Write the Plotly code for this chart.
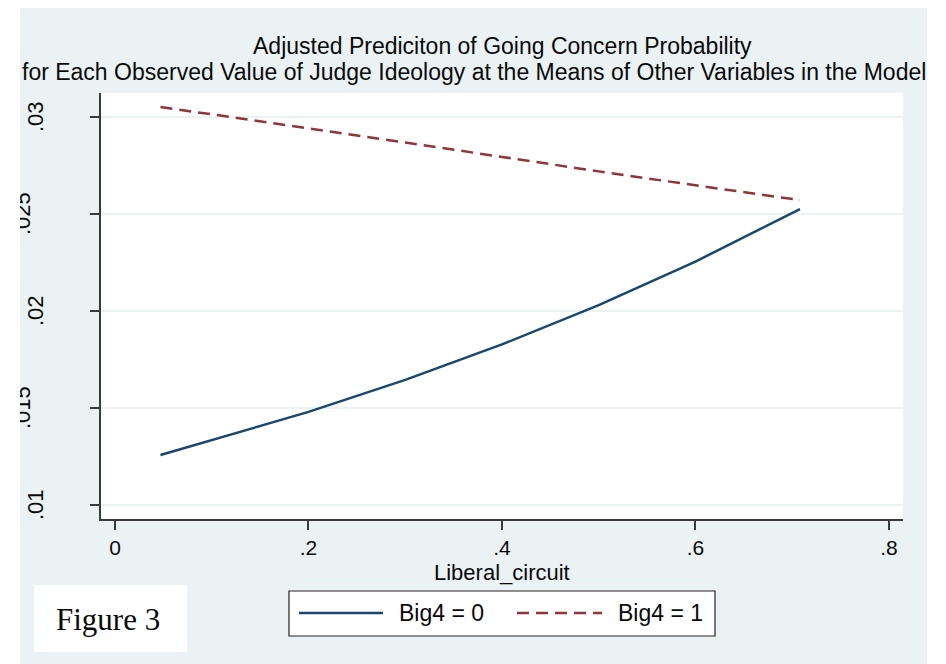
import plotly.graph_objects as go

# ---- data ----
liberal_circuit = [0.047, 0.1, 0.2, 0.3, 0.4, 0.5, 0.6, 0.708]
big4_0 = [0.01258, 0.01335, 0.01480, 0.01645, 0.01828, 0.02030, 0.02255, 0.02526]
big4_1 = [0.03052, 0.03015, 0.02942, 0.02869, 0.02793, 0.02720, 0.02648, 0.02572]
series_names = ["Big4 = 0", "Big4 = 1"]

x_tickvals = [0, 0.2, 0.4, 0.6, 0.8]
x_ticktext = ["0", ".2", ".4", ".6", ".8"]
y_tickvals = [0.01, 0.015, 0.02, 0.025, 0.03]
y_ticktext = [".01", ".015", ".02", ".025", ".03"]

title_1 = "Adjusted Prediciton of Going Concern Probability"
title_2 = "for Each Observed Value of Judge Ideology at the Means of Other Variables in the Model"
x_title = "Liberal_circuit"
fig_label = "Figure 3"

# ---- style ----
BG = "#eaf2f3"
NAVY = "#1a476f"
MAROON = "#90353b"
AXC = "#3a3a3a"
TXT = "#0a0a0a"
FONT = "Liberation Sans, Arial, sans-serif"

OFF = 8  # page body margin
W, H = 946 - OFF, 664 - OFF
L, R, T, B = 101 - OFF, 43, 93 - OFF, 145
PW, PH = W - L - R, H - T - B


def px_x(p):  # page pixel -> paper x
    return (p - OFF - L) / PW


def px_y(p):  # page pixel -> paper y
    return (H - B - (p - OFF)) / PH


fig = go.Figure()
fig.add_trace(go.Scatter(x=liberal_circuit, y=big4_0, mode="lines", name=series_names[0],
                         line=dict(color=NAVY, width=2.5), showlegend=False))
fig.add_trace(go.Scatter(x=liberal_circuit, y=big4_1, mode="lines", name=series_names[1],
                         line=dict(color=MAROON, width=2.5, dash="12px,7px"), showlegend=False))

annotations = []
# titles
annotations.append(dict(text=title_1, xref="paper", yref="paper", x=0.5, y=1, yshift=47,
                        xanchor="center", yanchor="middle", showarrow=False,
                        font=dict(family=FONT, size=23, color=TXT)))
annotations.append(dict(text=title_2, xref="paper", yref="paper", x=0.5, xshift=-28, y=1, yshift=21,
                        xanchor="center", yanchor="middle", showarrow=False,
                        font=dict(family=FONT, size=23, color=TXT)))
# y tick labels (rotated)
for v, t in zip(y_tickvals, y_ticktext):
    shift = -66 if len(t) == 3 else -79
    annotations.append(dict(text=t, xref="paper", yref="y", x=0, y=v, xshift=shift,
                            xanchor="center", yanchor="middle", textangle=-90, showarrow=False,
                            font=dict(family=FONT, size=22, color=TXT)))
# x axis title
annotations.append(dict(text=x_title, xref="paper", yref="paper", x=0.5, y=px_y(572),
                        xanchor="center", yanchor="middle", showarrow=False,
                        font=dict(family=FONT, size=22, color=TXT)))
# legend text
annotations.append(dict(text=series_names[0], xref="paper", yref="paper", x=px_x(397), y=px_y(613),
                        xanchor="left", yanchor="middle", showarrow=False,
                        font=dict(family=FONT, size=23, color=TXT)))
annotations.append(dict(text=series_names[1], xref="paper", yref="paper", x=px_x(616), y=px_y(613),
                        xanchor="left", yanchor="middle", showarrow=False,
                        font=dict(family=FONT, size=23, color=TXT)))
# figure label
annotations.append(dict(text=fig_label, xref="paper", yref="paper", x=px_x(108), y=px_y(619),
                        xanchor="center", yanchor="middle", showarrow=False,
                        font=dict(family="Liberation Serif, Times New Roman, serif", size=31, color=TXT)))
# masks (clip text at the outer white border)
annotations.append(dict(text=" ", xref="paper", yref="paper", x=px_x(OFF), y=0.5, xanchor="left",
                        yanchor="middle", width=20 - OFF, height=700, bgcolor="white", borderpad=0,
                        borderwidth=0, showarrow=False))
annotations.append(dict(text=" ", xref="paper", yref="paper", x=px_x(927), y=0.5, xanchor="left",
                        yanchor="middle", width=25, height=700, bgcolor="white", borderpad=0,
                        borderwidth=0, showarrow=False))

shapes = [
    # outer white strips
    dict(type="rect", xref="paper", yref="paper", x0=px_x(0), x1=px_x(20), y0=px_y(700), y1=px_y(-20),
         fillcolor="white", line=dict(width=0), layer="above"),
    dict(type="rect", xref="paper", yref="paper", x0=px_x(927), x1=px_x(960), y0=px_y(700), y1=px_y(-20),
         fillcolor="white", line=dict(width=0), layer="above"),
    # legend box
    dict(type="rect", xref="paper", yref="paper", x0=px_x(289), x1=px_x(715), y0=px_y(636), y1=px_y(591),
         fillcolor="white", line=dict(color="#222", width=1.2), layer="above"),
    dict(type="line", xref="paper", yref="paper", x0=px_x(299), x1=px_x(383), y0=px_y(613), y1=px_y(613),
         line=dict(color=NAVY, width=2.5), layer="above"),
    dict(type="line", xref="paper", yref="paper", x0=px_x(517), x1=px_x(602), y0=px_y(613), y1=px_y(613),
         line=dict(color=MAROON, width=2.5, dash="12px,7px"), layer="above"),
    # figure label box
    dict(type="rect", xref="paper", yref="paper", x0=px_x(34), x1=px_x(187), y0=px_y(652), y1=px_y(585),
         fillcolor="white", line=dict(width=0), layer="above"),
]

fig.update_layout(
    width=W, height=H,
    margin=dict(l=L, r=R, t=T, b=B, pad=0),
    paper_bgcolor=BG, plot_bgcolor="white",
    showlegend=False,
    annotations=annotations, shapes=shapes,
    font=dict(family=FONT, size=21, color=TXT),
    xaxis=dict(range=[-0.01447, 0.8145], tickvals=x_tickvals, ticktext=x_ticktext,
               showgrid=False, zeroline=False, showline=True, linecolor=AXC, linewidth=1.5,
               ticks="outside", ticklen=9, tickwidth=1.5, tickcolor=AXC,
               tickfont=dict(family=FONT, size=21, color=TXT)),
    yaxis=dict(range=[0.00928, 0.03124], tickvals=y_tickvals, ticktext=["" for _ in y_ticktext],
               showgrid=True, gridcolor=BG, gridwidth=1.5, zeroline=False,
               showline=True, linecolor=AXC, linewidth=1.5,
               ticks="outside", ticklen=9, tickwidth=1.5, tickcolor=AXC),
)

fig.write_html("out.html")
